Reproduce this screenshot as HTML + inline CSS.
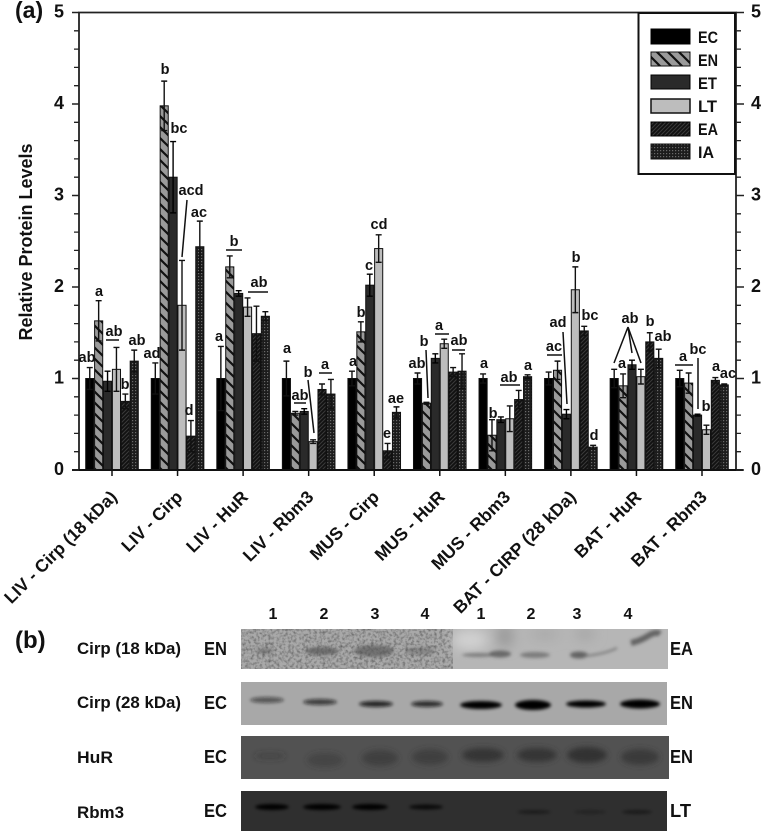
<!DOCTYPE html>
<html lang="en">
<head>
<meta charset="utf-8">
<title>Relative Protein Levels</title>
<style>
html,body{margin:0;padding:0;background:#fff;}
svg{display:block;font-family:"Liberation Sans",sans-serif;font-weight:bold;fill:#111;}
.ann{font-size:14.5px;text-anchor:middle;dominant-baseline:central;}
.ln{stroke:#111;stroke-width:1.5;fill:none;}
.lane{font-size:16px;text-anchor:middle;}
.row{font-size:17px;}
.cond{font-size:18px;}
</style>
</head>
<body>
<svg id="fig" width="762" height="832" viewBox="0 0 762 832" xmlns="http://www.w3.org/2000/svg">
<defs>
<pattern id="pEN" patternUnits="userSpaceOnUse" width="11" height="11"><rect width="11" height="11" fill="#9a9a9a"/><path d="M-2,-2L13,13M-2,9L2,13M9,-2L13,2" stroke="#111" stroke-width="2.2"/></pattern>
<pattern id="pEA" patternUnits="userSpaceOnUse" width="4" height="4"><rect width="4" height="4" fill="#111"/><path d="M-1,5L5,-1M-1,1L1,-1M3,5L5,3" stroke="#3a3a3a" stroke-width="1"/></pattern>
<pattern id="pIA" patternUnits="userSpaceOnUse" width="3" height="3"><rect width="3" height="3" fill="#1c1c1c"/><rect x="0" y="0" width="1.2" height="1.2" fill="#6a6a6a"/></pattern>
<filter id="b1" x="-30%" y="-100%" width="160%" height="300%"><feGaussianBlur stdDeviation="1.6"/></filter>
<filter id="b2" x="-30%" y="-100%" width="160%" height="300%"><feGaussianBlur stdDeviation="3"/></filter>
<filter id="b3" x="-50%" y="-50%" width="200%" height="200%"><feGaussianBlur stdDeviation="6"/></filter>
<filter id="noise" x="0" y="0" width="100%" height="100%"><feTurbulence type="fractalNoise" baseFrequency="0.35" numOctaves="2" seed="4"/><feColorMatrix values="0 0 0 0 0  0 0 0 0 0  0 0 0 0 0  0 0 0 1.6 -0.65"/></filter>
<clipPath id="cR1"><rect x="241" y="629" width="427" height="40"/></clipPath>
<clipPath id="cR2"><rect x="241" y="682" width="426" height="43"/></clipPath>
<clipPath id="cR3"><rect x="241" y="736" width="428" height="43"/></clipPath>
<clipPath id="cR4"><rect x="241" y="791" width="426" height="40"/></clipPath>
</defs>

<g id="marks"></g>
<g id="axes"></g>

<text x="15" y="18" font-size="23">(a)</text>
<text transform="translate(32,242) rotate(-90)" font-size="18" text-anchor="middle">Relative Protein Levels</text>

<g>
<text class="ann" x="87" y="358">ab</text><text class="ann" x="99" y="292">a</text><text class="ann" x="114" y="332">ab</text><text class="ann" x="125" y="385">b</text><text class="ann" x="137" y="341">ab</text>
<path class="ln" d="M106,340H119"/>
<text class="ann" x="152" y="354">ad</text><text class="ann" x="165" y="70">b</text><text class="ann" x="179" y="129">bc</text><text class="ann" x="191" y="191">acd</text><text class="ann" x="199" y="213">ac</text><text class="ann" x="189" y="411">d</text>
<path class="ln" d="M187,200L182,257"/>
<text class="ann" x="219" y="337">a</text><text class="ann" x="234" y="242">b</text><text class="ann" x="259" y="283">ab</text>
<path class="ln" d="M226,250H242M248,292H268"/>
<text class="ann" x="287" y="349">a</text><text class="ann" x="300" y="396">ab</text><text class="ann" x="308" y="373">b</text><text class="ann" x="325" y="365">a</text>
<path class="ln" d="M294,403H306M308,380L314,433M319,373H332"/>
<text class="ann" x="353" y="362">a</text><text class="ann" x="361" y="313">b</text><text class="ann" x="369" y="266">c</text><text class="ann" x="379" y="225">cd</text><text class="ann" x="387" y="434">e</text><text class="ann" x="396" y="399">ae</text>
<text class="ann" x="417" y="364">ab</text><text class="ann" x="424" y="342">b</text><text class="ann" x="439" y="326">a</text><text class="ann" x="459" y="341">ab</text>
<path class="ln" d="M426,350L428,398M435,334H449M452,350H465"/>
<text class="ann" x="484" y="364">a</text><text class="ann" x="493" y="414">b</text><text class="ann" x="509" y="378">ab</text><text class="ann" x="528" y="366">a</text>
<path class="ln" d="M500,385H520"/>
<text class="ann" x="554" y="347">ac</text><text class="ann" x="558" y="323">ad</text><text class="ann" x="576" y="258">b</text><text class="ann" x="590" y="316">bc</text><text class="ann" x="594" y="436">d</text>
<path class="ln" d="M547,355H562M563,332L567,404"/>
<text class="ann" x="622" y="364">a</text><text class="ann" x="630" y="319">ab</text><text class="ann" x="650" y="322">b</text><text class="ann" x="663" y="337">ab</text>
<path class="ln" d="M628,327L614,363M628,327L632,353M628,327L641,363"/>
<text class="ann" x="683" y="357">a</text><text class="ann" x="698" y="350">bc</text><text class="ann" x="706" y="407">b</text><text class="ann" x="716" y="367">a</text><text class="ann" x="728" y="374">ac</text>
<path class="ln" d="M675,365H693M698,358V409"/>
</g>

<g>
<rect x="638.5" y="13" width="96.5" height="161" fill="#fff" stroke="#111" stroke-width="2"/>
<rect x="651" y="29" width="39" height="15" fill="#000" stroke="#000"/>
<text x="698" y="43" font-size="17" textLength="20" lengthAdjust="spacingAndGlyphs">EC</text>
<rect x="651" y="52" width="39" height="14" fill="url(#pEN)" stroke="#111"/>
<text x="698" y="66" font-size="17" textLength="20" lengthAdjust="spacingAndGlyphs">EN</text>
<rect x="651" y="75" width="39" height="14" fill="#2a2a2a" stroke="#000"/>
<text x="698" y="89" font-size="17" textLength="19" lengthAdjust="spacingAndGlyphs">ET</text>
<rect x="651" y="99" width="39" height="14" fill="#bdbdbd" stroke="#111" stroke-width="1.5"/>
<text x="698" y="112" font-size="17" textLength="19" lengthAdjust="spacingAndGlyphs">LT</text>
<rect x="651" y="122" width="39" height="14" fill="url(#pEA)" stroke="#000"/>
<text x="698" y="135" font-size="17" textLength="20" lengthAdjust="spacingAndGlyphs">EA</text>
<rect x="651" y="144" width="39" height="15" fill="url(#pIA)" stroke="#111"/>
<text x="698" y="158" font-size="17" textLength="16" lengthAdjust="spacingAndGlyphs">IA</text>
</g>

<g>
<text x="15" y="648" font-size="24">(b)</text>
<g>
<text class="lane" x="273" y="619">1</text><text class="lane" x="324" y="619">2</text><text class="lane" x="375" y="619">3</text><text class="lane" x="425" y="619">4</text>
<text class="lane" x="481" y="619">1</text><text class="lane" x="531" y="619">2</text><text class="lane" x="577" y="619">3</text><text class="lane" x="628" y="619">4</text>
</g>
<text class="row" x="77" y="654" textLength="104" lengthAdjust="spacingAndGlyphs">Cirp (18 kDa)</text>
<text class="row" x="77" y="708" textLength="104" lengthAdjust="spacingAndGlyphs">Cirp (28 kDa)</text>
<text class="row" x="77" y="763" textLength="36" lengthAdjust="spacingAndGlyphs">HuR</text>
<text class="row" x="77" y="818" textLength="47" lengthAdjust="spacingAndGlyphs">Rbm3</text>
<g>
<text class="cond" x="204" y="655" textLength="23" lengthAdjust="spacingAndGlyphs">EN</text><text class="cond" x="204" y="709" textLength="23" lengthAdjust="spacingAndGlyphs">EC</text><text class="cond" x="204" y="763" textLength="23" lengthAdjust="spacingAndGlyphs">EC</text><text class="cond" x="204" y="817" textLength="23" lengthAdjust="spacingAndGlyphs">EC</text>
<text class="cond" x="670" y="655" textLength="23" lengthAdjust="spacingAndGlyphs">EA</text><text class="cond" x="670" y="709" textLength="23" lengthAdjust="spacingAndGlyphs">EN</text><text class="cond" x="670" y="763" textLength="23" lengthAdjust="spacingAndGlyphs">EN</text><text class="cond" x="670" y="817" textLength="21" lengthAdjust="spacingAndGlyphs">LT</text>
</g>

<g clip-path="url(#cR1)">
<rect x="241" y="629" width="212" height="40" fill="#a9a9a9"/>
<rect x="453" y="629" width="215" height="40" fill="#b6b6b6"/>
<rect x="241" y="629" width="212" height="40" filter="url(#noise)" opacity=".5"/>
<g filter="url(#b3)"><ellipse cx="470" cy="640" rx="18" ry="10" fill="#d2d2d2"/><ellipse cx="505" cy="636" rx="8" ry="12" fill="#999"/><ellipse cx="585" cy="634" rx="10" ry="6" fill="#a5a5a5"/><ellipse cx="545" cy="634" rx="15" ry="5" fill="#a8a8a8"/></g>
<g filter="url(#b1)" fill="#555">
<ellipse cx="265" cy="651" rx="9" ry="3" opacity=".5"/><ellipse cx="322" cy="651" rx="17" ry="4" opacity=".7"/><ellipse cx="374" cy="651" rx="20" ry="6" opacity=".65"/><ellipse cx="420" cy="651" rx="15" ry="4" opacity=".4"/>
<ellipse cx="478" cy="655" rx="16" ry="2" opacity=".6"/><ellipse cx="500" cy="654" rx="11" ry="3.5" opacity=".8"/><ellipse cx="535" cy="655" rx="15" ry="3" opacity=".6"/><ellipse cx="579" cy="655" rx="9" ry="3.5" opacity=".85"/><path d="M585,656Q605,654 617,648" stroke="#777" stroke-width="2" fill="none"/>
<path d="M631,643Q640,641 648,636T660,634" stroke="#555" stroke-width="6" fill="none" opacity=".85"/></g>
</g>
<g clip-path="url(#cR2)">
<rect x="241" y="682" width="426" height="43" fill="#a8a8a8"/>
<g filter="url(#b1)" fill="#111">
<ellipse cx="267" cy="700" rx="17" ry="3" opacity=".55"/><ellipse cx="320" cy="702" rx="17" ry="3" opacity=".7"/><ellipse cx="376" cy="704" rx="17" ry="3" opacity=".85"/><ellipse cx="427" cy="704" rx="16" ry="3" opacity=".8"/>
<ellipse cx="481" cy="705" rx="21" ry="4" fill="#000"/><ellipse cx="533" cy="705" rx="18" ry="5" fill="#000"/><ellipse cx="586" cy="704" rx="20" ry="3.5" fill="#000"/><ellipse cx="640" cy="704" rx="20" ry="4.5" fill="#000"/></g>
</g>
<g clip-path="url(#cR3)">
<rect x="241" y="736" width="428" height="43" fill="#525252"/>
<g filter="url(#b2)" fill="#333">
<ellipse cx="270" cy="756" rx="16" ry="4" opacity=".3"/><ellipse cx="325" cy="760" rx="18" ry="7" opacity=".45"/><ellipse cx="380" cy="758" rx="18" ry="8" opacity=".6"/><ellipse cx="430" cy="757" rx="18" ry="8" opacity=".6"/>
<ellipse cx="483" cy="755" rx="21" ry="7" opacity=".95"/><ellipse cx="537" cy="755" rx="20" ry="7" opacity=".95"/><ellipse cx="587" cy="755" rx="20" ry="8" opacity="1"/><ellipse cx="640" cy="757" rx="19" ry="8" opacity=".8"/></g>
</g>
<g clip-path="url(#cR4)">
<rect x="241" y="791" width="426" height="40" fill="#2f2f2f"/>
<g filter="url(#b1)" fill="#000">
<ellipse cx="272" cy="807" rx="17" ry="3"/><ellipse cx="322" cy="807" rx="19" ry="3"/><ellipse cx="370" cy="807" rx="18" ry="3"/><ellipse cx="426" cy="807" rx="17" ry="2.5" opacity=".8"/>
<ellipse cx="534" cy="812" rx="17" ry="2" opacity=".4"/><ellipse cx="590" cy="812" rx="16" ry="2" opacity=".25"/><ellipse cx="637" cy="812" rx="15" ry="2" opacity=".45"/></g>
</g>
</g>

<script>
var categories = ["LIV - Cirp (18 kDa)","LIV - Cirp","LIV - HuR","LIV - Rbm3","MUS - Cirp","MUS - HuR","MUS - Rbm3","BAT - CIRP (28 kDa)","BAT - HuR","BAT - Rbm3"];
var seriesNames = ["EC","EN","ET","LT","EA","IA"];
var ecValues = [1,1,1,1,1,1,1,1,1,1];
var enValues = [1.63,3.98,2.22,0.62,1.51,0.73,0.38,1.09,0.92,0.95];
var etValues = [0.97,3.2,1.93,0.64,2.02,1.22,0.55,0.61,1.15,0.6];
var ltValues = [1.1,1.8,1.78,0.31,2.42,1.38,0.56,1.97,1.02,0.44];
var eaValues = [0.75,0.37,1.49,0.88,0.21,1.07,0.77,1.52,1.4,0.98];
var iaValues = [1.19,2.44,1.68,0.83,0.63,1.08,1.02,0.25,1.22,0.93];
var ecErrors = [0.12,0.17,0.35,0.19,0.08,0.06,0.05,0.07,0.1,0.09];
var enErrors = [0.22,0.27,0.12,0.02,0.11,0.01,0.17,0.1,0.13,0.11];
var etErrors = [0.11,0.39,0.03,0.03,0.12,0.05,0.03,0.05,0.05,0.01];
var ltErrors = [0.24,0.49,0.1,0.02,0.15,0.05,0.14,0.25,0.08,0.05];
var eaErrors = [0.08,0.17,0.3,0.06,0.08,0.05,0.1,0.05,0.1,0.03];
var iaErrors = [0.12,0.28,0.05,0.16,0.06,0.19,0.02,0.02,0.1,0.01];
var yTickLabels = [0,1,2,3,4,5];
var yMinorTicks = [0.2,0.4,0.6,0.8,1.2,1.4,1.6,1.8,2.2,2.4,2.6,2.8,3.2,3.4,3.6,3.8,4.2,4.4,4.6,4.8];

var NS = "http://www.w3.org/2000/svg";
var allValues = [ecValues,enValues,etValues,ltValues,eaValues,iaValues];
var allErrors = [ecErrors,enErrors,etErrors,ltErrors,eaErrors,iaErrors];
var fills = ["#000","url(#pEN)","#2a2a2a","#bdbdbd","url(#pEA)","url(#pIA)"];
var errColors = ["#111","#111","#000","#111","#111","#111"];
var plot = {left:79, right:736, top:12.5, bottom:470, extentRight:743, extentLeft:72};
function yScale(v){ return plot.bottom - v * (plot.bottom - plot.top) / 5; }
function xCenter(g){ return 112 + g * (702 - 112) / (categories.length - 1); }
var barW = 8.9;
function xBar(g,s){ return xCenter(g) - 3 * barW + s * barW; }
function mk(tag, attrs, parent){
  var e = document.createElementNS(NS, tag);
  for (var k in attrs) e.setAttribute(k, attrs[k]);
  parent.appendChild(e);
  return e;
}
var marks = document.getElementById("marks");
var axes = document.getElementById("axes");

categories.forEach(function(cat,g){
  seriesNames.forEach(function(name,s){
    var v = allValues[s][g], er = allErrors[s][g];
    var x = xBar(g,s), y = yScale(v), cx = x + barW/2;
    var bar = mk("rect",{x:x+0.4,y:y,width:barW-0.8,height:plot.bottom-y,fill:fills[s],stroke:"#111","stroke-width":1},marks);
    
    
    var yu = yScale(v+er), yd = yScale(Math.max(v-er,0));
    var err = mk("path",{d:"M"+(cx-3)+","+yu+"H"+(cx+3)+"M"+cx+","+yu+"V"+yd+"M"+(cx-3)+","+yd+"H"+(cx+3),stroke:errColors[s],"stroke-width":1.4,fill:"none"},marks);
    
    
  });
});

var frame = mk("path",{d:"M"+plot.left+","+plot.bottom+"V"+plot.top+"H"+plot.right+"V"+plot.bottom,stroke:"#222","stroke-width":1.8,fill:"none"},axes);


var baseline = mk("path",{d:"M"+plot.extentLeft+","+plot.bottom+"H"+plot.extentRight,stroke:"#111","stroke-width":2,fill:"none"},axes);



yTickLabels.forEach(function(t){
  var y = yScale(t);
  var tk = mk("path",{d:"M"+(plot.left-7)+","+y+"H"+plot.left+"M"+plot.right+","+y+"H"+(plot.right+8),stroke:"#222","stroke-width":1.5},axes);
  
  
  var a = mk("text",{x:64,y:y+5,"font-size":18,"text-anchor":"end"},axes);
  a.textContent = t;
  
  
  var b = mk("text",{x:751,y:y+5,"font-size":18},axes);
  b.textContent = t;
  
  
});
yMinorTicks.forEach(function(t){
  var y = yScale(t);
  var tk = mk("path",{d:"M"+(plot.left-5)+","+y+"H"+plot.left+"M"+plot.right+","+y+"H"+(plot.right+5),stroke:"#222","stroke-width":1.3},axes);
  
  
});
categories.forEach(function(cat,g){
  var x = xCenter(g);
  var tk = mk("path",{d:"M"+x+","+plot.bottom+"V"+(plot.bottom+6),stroke:"#111","stroke-width":1.5},axes);
  
  
  var lb = mk("text",{transform:"translate("+(x+6)+",498) rotate(-45)","font-size":17.5,"text-anchor":"end"},axes);
  lb.textContent = cat;
  
  
});
</script>
</svg>
</body>
</html>
